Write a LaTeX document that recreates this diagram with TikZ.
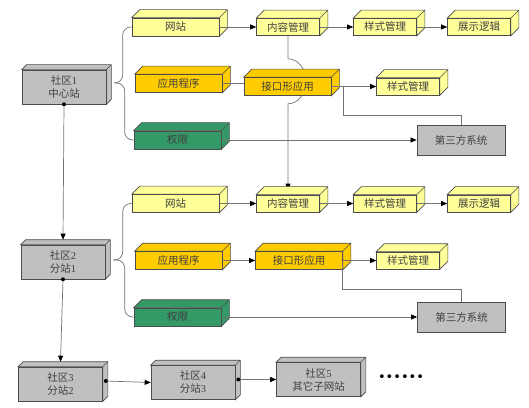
\documentclass[tikz,border=0pt]{standalone}
\usepackage{fontspec}
\setmainfont{Liberation Serif}
\newfontfamily\cjk{Noto Sans CJK SC}
\newfontfamily\sym{DejaVu Sans}
\usetikzlibrary{arrows.meta,backgrounds}
\definecolor{paleyel}{HTML}{FFFF99}
\definecolor{goldbox}{HTML}{FFCC00}
\definecolor{seagreen}{HTML}{339966}
\definecolor{boxgray}{HTML}{C0C0C0}

\begin{document}
\begin{tikzpicture}[x=1pt, y=1pt,
    every node/.style={font=\cjk\fontsize{10.5}{13}\selectfont, text=black!75},
    cube/.style 2 args={draw=black!70, fill=#1, line width=0.6pt, inner sep=0pt,
      append after command={\pgfextra{\pgfinterruptpath
        \draw[black!70, line width=0.6pt, fill=#1] (\tikzlastnode.north west) -- ++(#2,#2)
          -- ([shift={(#2,#2)}]\tikzlastnode.north east) -- ([shift={(#2,#2)}]\tikzlastnode.south east)
          -- (\tikzlastnode.south east) -- (\tikzlastnode.north east) -- cycle
          (\tikzlastnode.north east) -- ++(#2,#2);
      \endpgfinterruptpath}}},
    site/.style={cube={boxgray}{5}, minimum width=84pt, minimum height=34pt, align=center},
    item/.style={minimum width=87pt, minimum height=18pt},
    part/.style={minimum width=63pt, minimum height=17pt},
    flatbox/.style={draw=black!70, fill=boxgray, line width=0.8pt, minimum width=88pt, minimum height=30pt},
    conn/.style={draw=black!55, line width=0.7pt},
    arr/.style={conn, -{Triangle[length=6pt, width=5pt, color=black]}}
    ]
\useasboundingbox (0,0) rectangle (529,407);

% community sites
\node[site] (s1) at (64,320) {社区\textrm{1}\\中心站};
\node[site] (s2) at (63,145) {社区\textrm{2}\\分站\textrm{1}};
\node[site] (s3) at (60.5,23) {社区\textrm{3}\\分站\textrm{2}};
\node[site] (s4) at (193,24.5) {社区\textrm{4}\\分站\textrm{3}};
\node[site] (s5) at (318.5,27.5) {社区\textrm{5}\\其它子网站};
\node[text=black] (more) at (401,29) {\sym\fontsize{13}{13}\selectfont ••••••};

% first block
\node[cube={paleyel}{8}, item] (w1) at (175.5,380) {网站};
\node[cube={goldbox}{8}, item] (a1) at (178.5,323.5) {应用程序};
\node[cube={seagreen}{8}, item] (q1) at (177.5,267) {权限};
\node[cube={paleyel}{8}, part] (n1) at (288,380) {内容管理};
\node[cube={paleyel}{8}, part] (y1) at (385,380) {样式管理};
\node[cube={paleyel}{8}, part] (z1) at (479,380) {展示逻辑};
\node[cube={goldbox}{8}, item] (k1) at (287.5,320.5) {接口形应用};
\node[cube={paleyel}{8}, part] (y1b) at (408,320.5) {样式管理};
\node[flatbox] (t1) at (461,267) {第三方系统};

% second block
\node[cube={paleyel}{8}, item] (w2) at (175.5,203.5) {网站};
\node[cube={goldbox}{8}, item] (a2) at (178.5,146.5) {应用程序};
\node[cube={seagreen}{8}, item] (q2) at (177.5,90) {权限};
\node[cube={paleyel}{8}, part] (n2) at (288,203.5) {内容管理};
\node[cube={paleyel}{8}, part] (y2) at (385,203.5) {样式管理};
\node[cube={paleyel}{8}, part] (z2) at (479,203.5) {展示逻辑};
\node[cube={goldbox}{8}, item] (k2) at (299,146.5) {接口形应用};
\node[cube={paleyel}{8}, part] (y2b) at (408,146.5) {样式管理};
\node[flatbox] (t2) at (461.5,90) {第三方系统};

% links between sites
\draw[arr] (s1.south) -- ([yshift=5pt]s2.north);
\draw[arr] (s2.south) -- ([yshift=5pt]s3.north);
\draw[arr] ([shift={(3,3)}]s3.east) -- (s4.west);
\draw[arr] ([shift={(3,3)}]s4.east) -- (s5.west);
\fill (s1.south) circle (2);
\fill (s2.south) circle (2);
\fill ([shift={(3,3)}]s3.east) circle (2);
\fill ([shift={(3,3)}]s4.east) circle (2);

% braces
\draw[conn, rounded corners=8pt] ([shift={(8,4)}]s1.east) -| ([xshift=-9pt]w1.west) -- (w1.west);
\draw[conn, rounded corners=8pt] ([shift={(8,4)}]s1.east) -| ([xshift=-9pt]q1.west) -- (q1.west);
\draw[conn, rounded corners=8pt] ([shift={(8,2)}]s2.east) -| ([xshift=-9pt]w2.west) -- (w2.west);
\draw[conn, rounded corners=8pt] ([shift={(8,2)}]s2.east) -| ([xshift=-9pt]q2.west) -- (q2.west);

% first block links
\draw[arr] (w1.east) -- (n1.west);
\draw[arr] (n1.east) -- (y1.west);
\draw[arr] (y1.east) -- (z1.west);
\draw[conn] (a1.east) -- (a1.east -| k1.west);
\draw[arr] (k1.east) -- (y1b.west);
\coordinate (j1) at ([xshift=12pt]k1.east);
\draw[conn] (j1) -- ++(0,-29) -| (t1.north);
\draw[arr] (q1.east) -- (t1.west);
\begin{pgfonlayer}{background}
\draw[arr] (n1.south) -- ++(0,-23) arc[start angle=90, end angle=-90, x radius=18, y radius=22.5]
  -- ([yshift=5pt]n2.north);
\end{pgfonlayer}

% second block links
\draw[arr] (w2.east) -- (n2.west);
\draw[arr] (n2.east) -- (y2.west);
\draw[arr] (y2.east) -- (z2.west);
\draw[arr] (a2.east) -- (k2.west);
\draw[arr] (k2.east) -- (y2b.west);
\draw[conn] (k2.east) -- ++(0,-29) -| (t2.north);
\draw[arr] (q2.east) -- (t2.west);
\end{tikzpicture}
\end{document}
